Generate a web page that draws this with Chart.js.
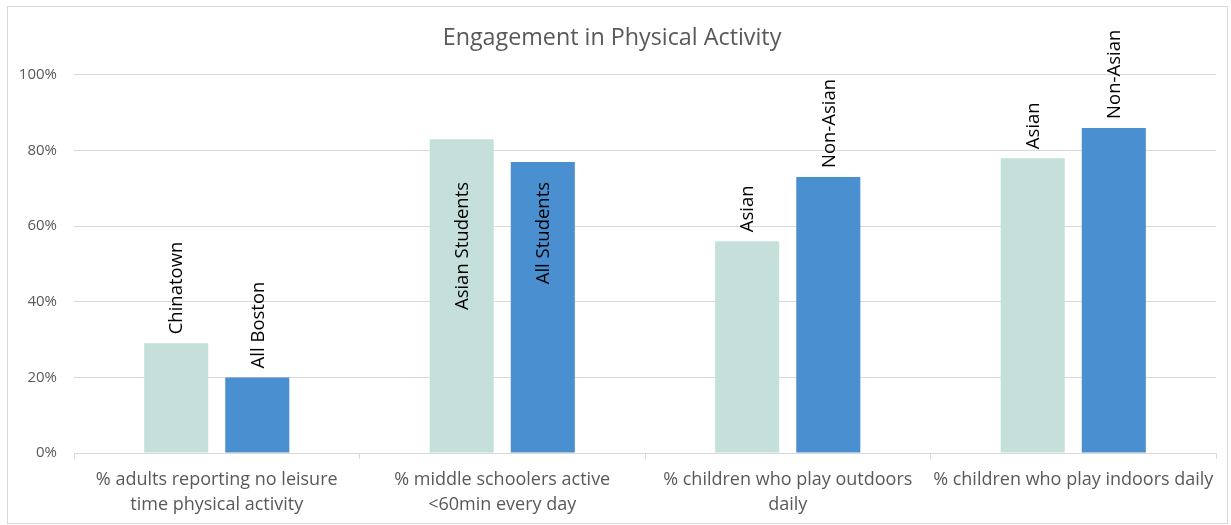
<!DOCTYPE html>
<html>
<head>
<meta charset="utf-8">
<title>Engagement in Physical Activity</title>
<script src="https://cdn.jsdelivr.net/npm/chart.js@4"></script>
<style>
  html, body { margin: 0; padding: 0; background: #fff; }
  #box { position: absolute; left: 7px; top: 6px; width: 1219px; height: 516px; border: 1px solid #d9d9d9; }
</style>
</head>
<body>
<div id="box"><canvas id="chart"></canvas></div>
<script>
'use strict';

const categories = [
  ['% adults reporting no leisure', 'time physical activity'],
  ['% middle schoolers active', '<60min every day'],
  ['% children who play outdoors', 'daily'],
  ['% children who play indoors daily'],
];
const groupA = [29, 83, 56, 78];
const groupB = [20, 77, 73, 86];
const namesA = ['Chinatown', 'Asian Students', 'Asian', 'Asian'];
const namesB = ['All Boston', 'All Students', 'Non-Asian', 'Non-Asian'];
const labelInside = [false, true, false, false];
const yTicks = [0, 20, 40, 60, 80, 100];

const FONT = '"Open Sans", Lato, sans-serif';
const GREY = '#595959';

// vertical names above (or inside) each bar
const barNames = {
  id: 'barNames',
  afterDatasetsDraw(chart) {
    const ctx = chart.ctx;
    const yScale = chart.scales.y;
    ctx.save();
    ctx.font = '18.5px ' + FONT;
    ctx.fillStyle = '#000';
    ctx.textBaseline = 'middle';
    chart.data.datasets.forEach((ds, di) => {
      chart.getDatasetMeta(di).data.forEach((bar, i) => {
        ctx.save();
        if (labelInside[i]) {
          const top = yScale.getPixelForValue(Math.min(groupA[i], groupB[i])) + 20;
          ctx.translate(bar.x + 1, top);
          ctx.rotate(-Math.PI / 2);
          ctx.textAlign = 'right';
        } else {
          ctx.translate(bar.x + 1, bar.y - 9);
          ctx.rotate(-Math.PI / 2);
          ctx.textAlign = 'left';
        }
        ctx.fillText(ds.names[i], 0, 0);
        ctx.restore();
      });
    });
    ctx.restore();
  },
};

new Chart(document.getElementById('chart'), {
  type: 'bar',
  data: {
    labels: categories,
    datasets: [
      { label: 'Group A', data: groupA, names: namesA, backgroundColor: '#c5e0db' },
      { label: 'Group B', data: groupB, names: namesB, backgroundColor: '#4a8fcf' },
    ],
  },
  options: {
    responsive: true,
    maintainAspectRatio: false,
    animation: false,
    categoryPercentage: 0.568,
    barPercentage: 0.79,
    layout: { padding: { left: 0, right: 11, top: 0, bottom: 0 } },
    plugins: {
      legend: { display: false },
      tooltip: { enabled: false },
      title: {
        display: true,
        text: 'Engagement in Physical Activity',
        color: GREY,
        font: { family: FONT, size: 23.3, weight: 'normal' },
        padding: { top: 17, bottom: 23 },
      },
    },
    scales: {
      x: {
        afterFit: (s) => { s.height = 70; },
        grid: { display: true, drawOnChartArea: false, drawTicks: true, tickLength: 6, color: '#d9d9d9', offset: true },
        border: { display: true, color: '#d9d9d9' },
        ticks: { color: GREY, font: { family: FONT, size: 18, lineHeight: 1.39 }, padding: 8, maxRotation: 0, autoSkip: false },
      },
      y: {
        min: 0,
        max: 100,
        afterFit: (s) => { s.width = 66; },
        afterBuildTicks: (s) => { s.ticks = yTicks.map((v) => ({ value: v })); },
        grid: { color: '#d9d9d9', drawTicks: false },
        border: { display: false },
        ticks: { color: GREY, font: { family: FONT, size: 15 }, padding: 17, callback: (v) => v + '%' },
      },
    },
  },
  plugins: [barNames],
});
</script>
</body>
</html>
